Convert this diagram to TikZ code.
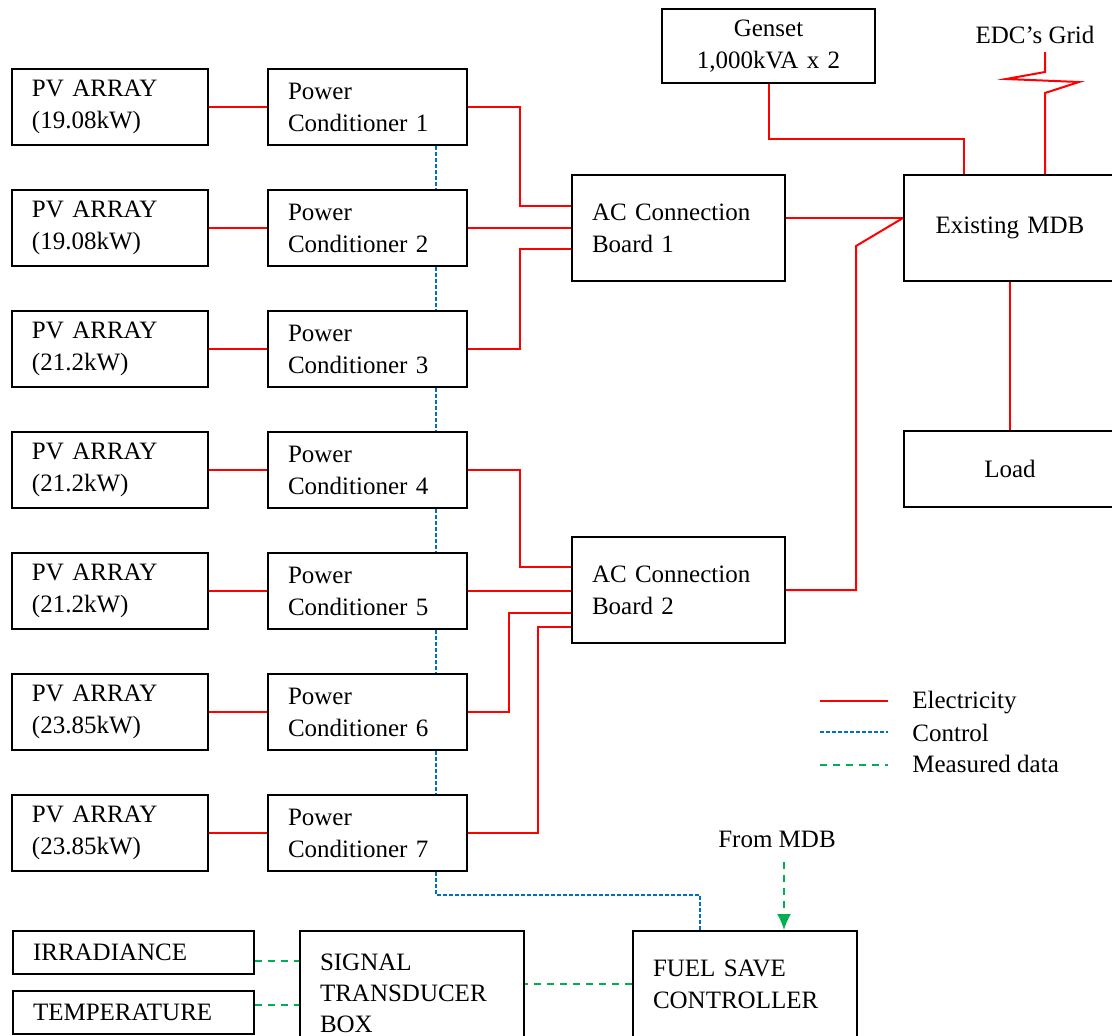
\documentclass[tikz,border=0pt]{standalone}
\usepackage{fontspec}
\setmainfont{Liberation Serif}
\usetikzlibrary{calc,arrows.meta}
\definecolor{ctrlblue}{RGB}{0,112,192}
\definecolor{measgreen}{RGB}{0,176,80}
\tikzset{
  box/.style={draw, line width=1pt, inner xsep=10pt, inner ysep=0pt, align=left, minimum height=38pt},
  elec/.style={draw=red, line width=1pt},
  ctrl/.style={draw=ctrlblue, line width=0.9pt, dash pattern=on 2pt off 1pt},
  meas/.style={draw=measgreen, line width=1pt, dash pattern=on 3.5pt off 3pt},
}

\begin{document}
\begin{tikzpicture}[x=0.5pt, y=-0.5pt, font=\fontsize{12.5}{16}\selectfont]
    \useasboundingbox (0,0) rectangle (1112,1035);

    \node[box, text width=78pt] at (110,107) (pv1) {PV ARRAY\\(19.08kW)};
    \node[box, text width=78pt] at (110,228) (pv2) {PV ARRAY\\(19.08kW)};
    \node[box, text width=78pt] at (110,349) (pv3) {PV ARRAY\\(21.2kW)};
    \node[box, text width=78pt] at (110,470) (pv4) {PV ARRAY\\(21.2kW)};
    \node[box, text width=78pt] at (110,591) (pv5) {PV ARRAY\\(21.2kW)};
    \node[box, text width=78pt] at (110,712) (pv6) {PV ARRAY\\(23.85kW)};
    \node[box, text width=78pt] at (110,833) (pv7) {PV ARRAY\\(23.85kW)};

    \node[box, text width=79.5pt] at (367.5,107) (pc1) {Power\\Conditioner 1};
    \node[box, text width=79.5pt] at (367.5,228) (pc2) {Power\\Conditioner 2};
    \node[box, text width=79.5pt] at (367.5,349) (pc3) {Power\\Conditioner 3};
    \node[box, text width=79.5pt] at (367.5,470) (pc4) {Power\\Conditioner 4};
    \node[box, text width=79.5pt] at (367.5,591) (pc5) {Power\\Conditioner 5};
    \node[box, text width=79.5pt] at (367.5,712) (pc6) {Power\\Conditioner 6};
    \node[box, text width=79.5pt] at (367.5,833) (pc7) {Power\\Conditioner 7};

    \node[box, text width=86.5pt, minimum height=53pt] at (678.5,228) (ac1) {AC Connection\\Board 1};
    \node[box, text width=86.5pt, minimum height=53pt] at (678.5,590) (ac2) {AC Connection\\Board 2};

    \node[box, align=center, text width=86pt, minimum height=53pt] at (1010,228) (mdb) {Existing MDB};
    \node[box, align=center, text width=86.5pt, minimum height=37pt] at (768.5,46) (genset) {Genset\\1,000kVA x 2};
    \node[box, align=center, text width=86pt] at (1010,469) (load) {Load};
    \node[anchor=base] at (1035,43) (grid) {EDC’s Grid};

    \node[box, text width=100.5pt, minimum height=21.5pt] at (133.5,952.5) (irr) {IRRADIANCE};
    \node[box, text width=100.5pt, minimum height=21.5pt] at (133.5,1012) (temp) {TEMPERATURE};
    \node[box, text width=92pt, minimum height=62pt, font=\fontsize{12.5}{15.5}\selectfont] at (412,993) (stb) {SIGNAL\\TRANSDUCER\\BOX};
    \node[box, text width=92pt, minimum height=53pt] at (745,984) (fsc) {FUEL SAVE\\CONTROLLER};
    \node[anchor=base] at (777,847) (frommdb) {From MDB};

    \node[anchor=base west, inner sep=0pt] at (912,708) (lelec) {Electricity};
    \node[anchor=base west, inner sep=0pt] at (912,741) (lctrl) {Control};
    \node[anchor=base west, inner sep=0pt] at (912,772) (lmeas) {Measured data};
    \draw[elec] (820,701) -- (888,701);
    \draw[ctrl] (820,732) -- (888,732);
    \draw[meas] (820,765) -- (888,765);

    \draw[elec] (pv1.east) -- (pc1.west);
    \draw[elec] (pv2.east) -- (pc2.west);
    \draw[elec] (pv3.east) -- (pc3.west);
    \draw[elec] (pv4.east) -- (pc4.west);
    \draw[elec] (pv5.east) -- (pc5.west);
    \draw[elec] (pv6.east) -- (pc6.west);
    \draw[elec] (pv7.east) -- (pc7.west);

    \draw[elec] (pc1.east) -- ++(52,0) |- ([yshift=11pt]ac1.west);
    \draw[elec] (pc2.east) -- (ac1.west);
    \draw[elec] (pc3.east) -- ++(52,0) |- ([yshift=-10.5pt]ac1.west);
    \draw[elec] (pc4.east) -- ++(52,0) |- ([yshift=11.5pt]ac2.west);
    \draw[elec] (pc5.east) -- (pc5.east -| ac2.west);
    \draw[elec] (pc6.east) -- ++(41,0) |- ([yshift=-11.5pt]ac2.west);
    \draw[elec] (pc7.east) -- ++(70,0) |- ([yshift=-18.5pt]ac2.west);

    \draw[elec] ([yshift=5pt]ac1.east) -- ([yshift=5pt]mdb.west);
    \draw[elec] (ac2.east) -| ($(mdb.west)+(-47,18)$) -- ([yshift=5pt]mdb.west);
    \draw[elec] (genset.south) -- ++(0,55) -| ([xshift=-23pt]mdb.north);
    \draw[elec] ([xshift=17.5pt]mdb.north) -- ++(0,-81) -- ++(34,-11) -- ++(-73,-3) -- ++(39,-7) -- ++(0,-20);
    \draw[elec] (mdb.south) -- (load.north);

    \draw[ctrl] ([xshift=34.25pt]pc1.south) -- ([xshift=34.25pt]pc2.north);
    \draw[ctrl] ([xshift=34.25pt]pc2.south) -- ([xshift=34.25pt]pc3.north);
    \draw[ctrl] ([xshift=34.25pt]pc3.south) -- ([xshift=34.25pt]pc4.north);
    \draw[ctrl] ([xshift=34.25pt]pc4.south) -- ([xshift=34.25pt]pc5.north);
    \draw[ctrl] ([xshift=34.25pt]pc5.south) -- ([xshift=34.25pt]pc6.north);
    \draw[ctrl] ([xshift=34.25pt]pc6.south) -- ([xshift=34.25pt]pc7.north);
    \draw[ctrl] ([xshift=34.25pt]pc7.south) -- ++(0,23) -| ([xshift=-22.5pt]fsc.north);

    \draw[meas] ([yshift=-4.25pt]irr.east) -- ([yshift=-4.25pt]irr.east -| stb.west);
    \draw[meas] ([yshift=3.5pt]temp.east) -- ([yshift=3.5pt]temp.east -| stb.west);
    \draw[meas] (fsc.west) -- (fsc.west -| stb.east);
    \draw[meas, -{Latex[length=8pt,width=7pt]}] ($(fsc.north)+(39,-68)$) -- ([xshift=19.5pt]fsc.north);
    \end{tikzpicture}
\end{document}
